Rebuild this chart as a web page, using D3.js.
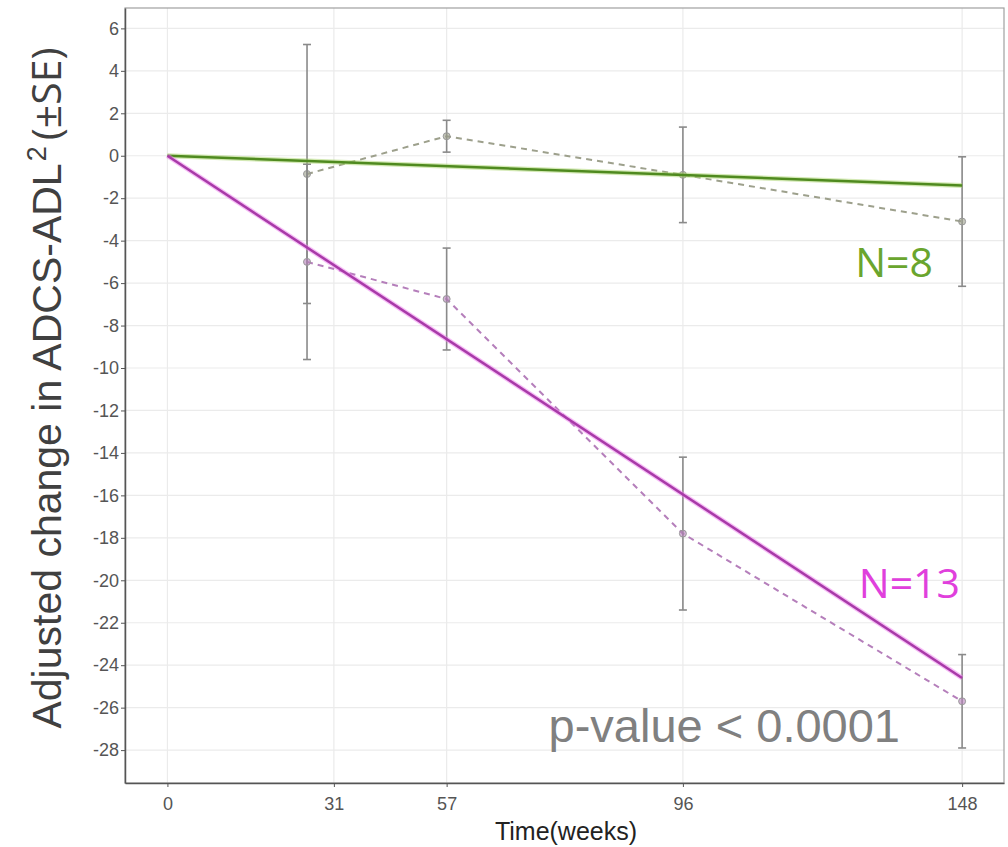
<!DOCTYPE html>
<html>
<head>
<meta charset="utf-8">
<script src="https://cdn.jsdelivr.net/npm/d3@7"></script>
<style>
  body { margin: 0; background: #fff; }
  svg { display: block; }
</style>
</head>
<body>
<svg></svg>
<script>
const width = 1008;
const height = 847;

// visit weeks of the observed means
const weeks = [26, 52, 96, 148];
const greenMean = [-0.86, 0.92, -0.9, -3.1];
const greenSE = [6.1, 0.75, 2.25, 3.05];
const magentaMean = [-5.0, -6.75, -17.8, -25.7];
const magentaSE = [4.6, 2.4, 3.6, 2.2];

// fitted lines
const fitWeeks = [0, 148];
const greenFit = [0, -1.4];
const magentaFit = [0, -24.6];

// axis ticks
const xTicks = [0, 31, 52, 96, 148];
const xTickLabels = ['0', '31', '57', '96', '148'];
const yTicks = d3.range(6, -29, -2);

const margin = {top: 8, right: 4, bottom: 64, left: 125};

const svg = d3.select('svg')
  .attr('width', width)
  .attr('height', height);

const x = d3.scaleLinear()
  .domain([-7.9, 155.8])
  .range([margin.left, width - margin.right]);

const y = d3.scaleLinear()
  .domain([-29.55, 6.96])
  .range([height - margin.bottom, margin.top]);

const g = svg.append('g');

// grid
g.selectAll('.hgrid')
  .data(yTicks)
  .enter()
  .append('line')
  .attr('x1', margin.left)
  .attr('x2', width - margin.right)
  .attr('y1', d => y(d))
  .attr('y2', d => y(d))
  .attr('stroke', '#ebebeb')
  .attr('stroke-width', 1.2);

g.selectAll('.vgrid')
  .data(xTicks)
  .enter()
  .append('line')
  .attr('x1', d => x(d))
  .attr('x2', d => x(d))
  .attr('y1', margin.top)
  .attr('y2', height - margin.bottom)
  .attr('stroke', '#ebebeb')
  .attr('stroke-width', 1.2);

// panel border
g.append('rect')
  .attr('x', margin.left)
  .attr('y', margin.top)
  .attr('width', width - margin.left - margin.right)
  .attr('height', height - margin.top - margin.bottom)
  .attr('fill', 'none')
  .attr('stroke', '#a0a0a0')
  .attr('stroke-width', 1.2);

// axes
const xAxis = svg.append('g')
  .attr('transform', `translate(0,${height - margin.bottom})`)
  .call(d3.axisBottom(x).tickValues(xTicks).tickFormat((d, i) => xTickLabels[i]).tickSize(4).tickSizeOuter(0));

const yAxis = svg.append('g')
  .attr('transform', `translate(${margin.left},0)`)
  .call(d3.axisLeft(y).tickValues(yTicks).tickFormat(d => String(d)).tickSize(4).tickSizeOuter(0));

[xAxis, yAxis].forEach(a => {
  a.select('.domain').attr('stroke', '#555').attr('stroke-width', 1.5);
  a.selectAll('.tick line').attr('stroke', '#555');
  a.selectAll('.tick text')
    .attr('fill', '#555')
    .style('font-family', 'Liberation Sans Narrow, Liberation Sans, Arial, sans-serif')
    .style('font-size', '18px');
});
xAxis.selectAll('.tick text').attr('dy', '1.1em');
yAxis.selectAll('.tick text').attr('x', -6);

const line = d3.line()
  .x(d => x(d[0]))
  .y(d => y(d[1]));

// observed means, dashed
function observed(means, ses, color) {
  const pts = weeks.map((w, i) => [w, means[i]]);
  g.append('path')
    .datum(pts)
    .attr('d', line)
    .attr('fill', 'none')
    .attr('stroke', color)
    .attr('stroke-width', 2)
    .attr('stroke-dasharray', '6,5');

  const eb = g.append('g');
  weeks.forEach((w, i) => {
    const lo = y(means[i] - ses[i]);
    const hi = y(means[i] + ses[i]);
    eb.append('line')
      .attr('x1', x(w)).attr('x2', x(w))
      .attr('y1', hi).attr('y2', lo)
      .attr('stroke', '#8a8a8a').attr('stroke-width', 1.6);
    [hi, lo].forEach(v => {
      eb.append('line')
        .attr('x1', x(w) - 4).attr('x2', x(w) + 4)
        .attr('y1', v).attr('y2', v)
        .attr('stroke', '#8a8a8a').attr('stroke-width', 1.6);
    });
    eb.append('circle')
      .attr('cx', x(w))
      .attr('cy', y(means[i]))
      .attr('r', 3.5)
      .attr('fill', color)
      .attr('fill-opacity', 0.6)
      .attr('stroke', '#999');
  });
}

observed(greenMean, greenSE, '#9da08c');
observed(magentaMean, magentaSE, '#b57fbb');

// fitted lines
function fitted(vals, color, halo) {
  const pts = fitWeeks.map((w, i) => [w, vals[i]]);
  g.append('path')
    .datum(pts)
    .attr('d', line)
    .attr('fill', 'none')
    .attr('stroke', halo)
    .attr('stroke-opacity', 0.5)
    .attr('stroke-width', 5);
  g.append('path')
    .datum(pts)
    .attr('d', line)
    .attr('fill', 'none')
    .attr('stroke', color)
    .attr('stroke-width', 2.5);
}

fitted(greenFit, '#4f8a1f', '#a8d46a');
fitted(magentaFit, '#a83aa8', '#f07cf0');

// annotations
svg.append('text')
  .attr('x', 933)
  .attr('y', 277)
  .attr('text-anchor', 'end')
  .attr('fill', '#6aa52e')
  .style('font-family', 'Open Sans, Noto Sans, sans-serif')
  .style('font-size', '41px')
  .text('N=8');

svg.append('text')
  .attr('x', 960)
  .attr('y', 598)
  .attr('text-anchor', 'end')
  .attr('fill', '#e040dc')
  .style('font-family', 'Open Sans, Noto Sans, sans-serif')
  .style('font-size', '41px')
  .text('N=13');

svg.append('text')
  .attr('x', 900)
  .attr('y', 742)
  .attr('text-anchor', 'end')
  .attr('fill', '#808080')
  .style('font-family', 'Liberation Sans, Arial, sans-serif')
  .style('font-size', '47px')
  .text('p-value < 0.0001');

// axis titles
svg.append('text')
  .attr('x', 566)
  .attr('y', 840)
  .attr('text-anchor', 'middle')
  .attr('fill', '#222')
  .style('font-family', 'Liberation Sans Narrow, Liberation Sans, Arial, sans-serif')
  .style('font-size', '25px')
  .text('Time(weeks)');

const yt = svg.append('text')
  .attr('transform', 'translate(61,388) rotate(-90)')
  .attr('text-anchor', 'middle')
  .attr('fill', '#404040')
  .style('font-family', 'Liberation Sans, Arial, sans-serif')
  .style('font-size', '41px');
yt.append('tspan').text('Adjusted change in ADCS-ADL');
yt.append('tspan').attr('dy', -15).attr('dx', 2).style('font-size', '27px').text('2');
yt.append('tspan').attr('dy', 15).attr('dx', 6).style('font-family', 'Open Sans, Noto Sans, sans-serif').text('(±SE)');
</script>
</body>
</html>
